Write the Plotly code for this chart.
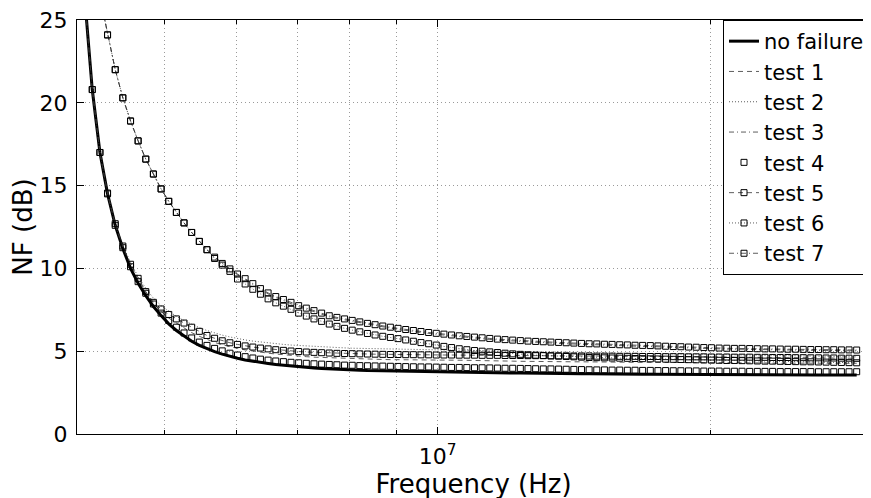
import plotly.graph_objects as go

# frequency grid of the measurement (MHz)
freq_mhz = [
    4.000, 4.078, 4.158, 4.240, 4.323, 4.408, 4.494, 4.583, 4.672, 4.764,
    4.857, 4.953, 5.050, 5.149, 5.250, 5.353, 5.458, 5.565, 5.674, 5.785,
    5.899, 6.014, 6.132, 6.253, 6.375, 6.500, 6.628, 6.758, 6.890, 7.025,
    7.163, 7.304, 7.447, 7.593, 7.742, 7.894, 8.049, 8.206, 8.367, 8.531,
    8.699, 8.869, 9.043, 9.221, 9.402, 9.586, 9.774, 9.966, 10.161, 10.360,
    10.564, 10.771, 10.982, 11.197, 11.417, 11.641, 11.869, 12.102, 12.339, 12.581,
    12.828, 13.080, 13.336, 13.598, 13.864, 14.136, 14.413, 14.696, 14.984, 15.278,
    15.578, 15.883, 16.195, 16.513, 16.836, 17.167, 17.503, 17.847, 18.197, 18.553,
    18.917, 19.288, 19.667, 20.052, 20.446, 20.847, 21.256, 21.672, 22.097, 22.531,
    22.973, 23.423, 23.883, 24.351, 24.829, 25.316, 25.812, 26.318, 26.834, 27.361,
    27.897, 28.444, 29.002,
]

nf_no_failure = [
    32.0, 26.2, 20.8, 17.0, 14.5, 12.6, 11.2, 10.0, 9.1, 8.35,
    7.7, 7.15, 6.65, 6.25, 5.9, 5.6, 5.35, 5.15, 4.97, 4.82,
    4.68, 4.57, 4.47, 4.39, 4.32, 4.26, 4.2, 4.15, 4.1, 4.06,
    4.02, 3.99, 3.96, 3.93, 3.91, 3.89, 3.87, 3.85, 3.83, 3.82,
    3.81, 3.80, 3.79, 3.78, 3.77, 3.76, 3.75, 3.74, 3.73, 3.72,
    3.72, 3.71, 3.71, 3.70, 3.70, 3.69, 3.69, 3.68, 3.68, 3.67,
    3.67, 3.66, 3.66, 3.65, 3.65, 3.65, 3.64, 3.64, 3.63, 3.63,
    3.63, 3.62, 3.62, 3.62, 3.61, 3.61, 3.61, 3.60, 3.60, 3.60,
    3.60, 3.59, 3.59, 3.59, 3.59, 3.59, 3.58, 3.58, 3.58, 3.58,
    3.58, 3.58, 3.57, 3.57, 3.57, 3.57, 3.57, 3.57, 3.56, 3.56,
    3.56, 3.56, 3.56,
]

nf_test1 = [
    32.0, 26.2, 20.8, 17.0, 14.5, 12.6, 11.3, 10.2, 9.3, 8.55,
    7.9, 7.4, 7.0, 6.7, 6.4, 6.12, 5.9, 5.7, 5.53, 5.39,
    5.27, 5.17, 5.08, 5.0, 4.94, 4.88, 4.83, 4.78, 4.74, 4.70,
    4.67, 4.64, 4.62, 4.60, 4.58, 4.56, 4.55, 4.53, 4.52, 4.51,
    4.50, 4.49, 4.49, 4.48, 4.48, 4.47, 4.47, 4.47, 4.46, 4.46,
    4.45, 4.45, 4.44, 4.44, 4.43, 4.42, 4.41, 4.40, 4.39, 4.38,
    4.38, 4.37, 4.37, 4.37, 4.36, 4.36, 4.36, 4.35, 4.35, 4.35,
    4.34, 4.34, 4.34, 4.33, 4.33, 4.33, 4.32, 4.32, 4.32, 4.31,
    4.31, 4.31, 4.30, 4.30, 4.30, 4.30, 4.30, 4.29, 4.29, 4.29,
    4.29, 4.28, 4.28, 4.28, 4.28, 4.28, 4.27, 4.27, 4.27, 4.27,
    4.27, 4.27, 4.27,
]

nf_test2 = [
    32.0, 26.2, 20.8, 17.0, 14.5, 12.6, 11.4, 10.35, 9.5, 8.8,
    8.2, 7.75, 7.4, 7.1, 6.85, 6.62, 6.42, 6.25, 6.1, 5.97,
    5.86, 5.76, 5.68, 5.61, 5.55, 5.5, 5.45, 5.41, 5.37, 5.34,
    5.31, 5.28, 5.26, 5.24, 5.22, 5.20, 5.18, 5.17, 5.15, 5.14,
    5.13, 5.12, 5.11, 5.10, 5.09, 5.08, 5.07, 5.07, 5.06, 5.06,
    5.05, 5.04, 5.03, 5.03, 5.02, 5.01, 5.00, 4.99, 4.98, 4.97,
    4.97, 4.96, 4.96, 4.95, 4.94, 4.94, 4.93, 4.92, 4.92, 4.91,
    4.90, 4.89, 4.89, 4.88, 4.87, 4.86, 4.86, 4.85, 4.84, 4.83,
    4.83, 4.82, 4.81, 4.80, 4.80, 4.79, 4.78, 4.78, 4.77, 4.76,
    4.76, 4.75, 4.74, 4.73, 4.73, 4.72, 4.71, 4.70, 4.70, 4.69,
    4.68, 4.67, 4.66,
]

nf_test3 = [
    35.5, 32.0, 29.0, 26.4, 24.1, 22.0, 20.3, 18.9, 17.7, 16.6,
    15.7, 14.8, 14.05, 13.38, 12.75, 12.17, 11.63, 11.13, 10.68, 10.3,
    9.95, 9.62, 9.32, 9.02, 8.72, 8.46, 8.24, 8.05, 7.88, 7.69,
    7.54, 7.39, 7.24, 7.08, 6.98, 6.89, 6.80, 6.71, 6.62, 6.54,
    6.46, 6.39, 6.32, 6.25, 6.19, 6.13, 6.07, 6.02, 5.97, 5.92,
    5.87, 5.83, 5.79, 5.75, 5.71, 5.67, 5.64, 5.61, 5.58, 5.55,
    5.53, 5.51, 5.49, 5.47, 5.45, 5.43, 5.41, 5.39, 5.38, 5.36,
    5.35, 5.33, 5.32, 5.30, 5.29, 5.28, 5.26, 5.25, 5.23, 5.22,
    5.20, 5.19, 5.17, 5.16, 5.14, 5.13, 5.12, 5.12, 5.11, 5.10,
    5.09, 5.09, 5.08, 5.07, 5.07, 5.06, 5.05, 5.05, 5.04, 5.04,
    5.03, 5.03, 5.02,
]

nf_test4 = [
    32.0, 26.2, 20.8, 17.0, 14.5, 12.6, 11.25, 10.1, 9.2, 8.5,
    7.85, 7.3, 6.85, 6.45, 6.1, 5.8, 5.55, 5.35, 5.17, 5.02,
    4.88, 4.77, 4.67, 4.59, 4.52, 4.46, 4.41, 4.37, 4.33, 4.30,
    4.27, 4.24, 4.22, 4.20, 4.18, 4.16, 4.15, 4.13, 4.12, 4.11,
    4.10, 4.09, 4.08, 4.07, 4.06, 4.05, 4.05, 4.04, 4.03, 4.02,
    4.02, 4.01, 4.00, 4.00, 3.99, 3.98, 3.97, 3.97, 3.96, 3.95,
    3.94, 3.93, 3.93, 3.92, 3.91, 3.90, 3.89, 3.88, 3.87, 3.87,
    3.86, 3.86, 3.85, 3.85, 3.84, 3.84, 3.83, 3.83, 3.82, 3.82,
    3.81, 3.81, 3.80, 3.80, 3.80, 3.79, 3.79, 3.79, 3.78, 3.78,
    3.78, 3.78, 3.77, 3.77, 3.77, 3.77, 3.77, 3.76, 3.76, 3.76,
    3.76, 3.76, 3.76,
]

nf_test5 = [
    32.0, 26.2, 20.8, 17.0, 14.55, 12.7, 11.35, 10.25, 9.4, 8.6,
    7.95, 7.55, 7.22, 6.95, 6.7, 6.45, 6.2, 5.95, 5.78, 5.63,
    5.51, 5.41, 5.32, 5.25, 5.19, 5.14, 5.09, 5.05, 5.01, 4.98,
    4.95, 4.93, 4.91, 4.89, 4.87, 4.86, 4.85, 4.84, 4.83, 4.82,
    4.81, 4.80, 4.80, 4.79, 4.79, 4.78, 4.78, 4.77, 4.77, 4.77,
    4.76, 4.76, 4.76, 4.75, 4.75, 4.75, 4.74, 4.74, 4.74, 4.73,
    4.73, 4.73, 4.72, 4.72, 4.72, 4.71, 4.71, 4.71, 4.70, 4.70,
    4.70, 4.69, 4.69, 4.69, 4.68, 4.68, 4.68, 4.67, 4.67, 4.67,
    4.66, 4.66, 4.66, 4.65, 4.65, 4.65, 4.64, 4.64, 4.64, 4.63,
    4.63, 4.62, 4.62, 4.62, 4.61, 4.61, 4.60, 4.60, 4.59, 4.59,
    4.58, 4.58, 4.57,
]

nf_test6 = [
    35.5, 32.0, 29.0, 26.4, 24.1, 22.0, 20.3, 18.9, 17.7, 16.6,
    15.7, 14.8, 14.05, 13.38, 12.75, 12.17, 11.63, 11.13, 10.6, 10.2,
    9.82, 9.36, 9.06, 8.74, 8.44, 8.16, 7.92, 7.72, 7.53, 7.3,
    7.12, 6.95, 6.8, 6.64, 6.5, 6.38, 6.27, 6.17, 6.07, 5.98,
    5.9, 5.83, 5.76, 5.68, 5.6, 5.52, 5.45, 5.37, 5.29, 5.22,
    5.15, 5.09, 5.04, 5.0, 4.96, 4.92, 4.88, 4.84, 4.81, 4.78,
    4.76, 4.74, 4.72, 4.70, 4.68, 4.66, 4.64, 4.62, 4.61, 4.60,
    4.59, 4.58, 4.57, 4.56, 4.55, 4.54, 4.53, 4.52, 4.51, 4.50,
    4.49, 4.48, 4.47, 4.46, 4.45, 4.44, 4.44, 4.43, 4.42, 4.41,
    4.40, 4.40, 4.39, 4.38, 4.37, 4.36, 4.36, 4.35, 4.34, 4.33,
    4.32, 4.31, 4.30,
]

nf_test7 = [
    35.5, 32.0, 29.0, 26.4, 24.1, 22.0, 20.3, 18.9, 17.7, 16.6,
    15.7, 14.8, 14.05, 13.38, 12.75, 12.17, 11.63, 11.13, 10.68, 10.3,
    9.97, 9.66, 9.38, 9.08, 8.78, 8.52, 8.3, 8.12, 7.95, 7.75,
    7.6, 7.45, 7.3, 7.14, 7.04, 6.95, 6.86, 6.77, 6.68, 6.6,
    6.52, 6.45, 6.38, 6.31, 6.25, 6.19, 6.13, 6.08, 6.03, 5.98,
    5.93, 5.89, 5.85, 5.81, 5.77, 5.73, 5.70, 5.67, 5.64, 5.61,
    5.59, 5.57, 5.55, 5.53, 5.51, 5.49, 5.47, 5.45, 5.44, 5.42,
    5.41, 5.39, 5.38, 5.36, 5.35, 5.34, 5.32, 5.30, 5.28, 5.27,
    5.25, 5.24, 5.22, 5.21, 5.19, 5.18, 5.17, 5.17, 5.16, 5.15,
    5.14, 5.14, 5.13, 5.12, 5.12, 5.11, 5.10, 5.10, 5.09, 5.09,
    5.08, 5.08, 5.07,
]

freq_hz = [f * 1e6 for f in freq_mhz]

# name, values, mode, dash
series = [
    ('test 1', nf_test1, 'lines', '5px,4px'),
    ('test 2', nf_test2, 'lines', '1px,2px'),
    ('test 3', nf_test3, 'lines', '5px,3px,1px,3px'),
    ('test 4', nf_test4, 'markers', 'solid'),
    ('test 5', nf_test5, 'lines+markers', '5px,4px'),
    ('test 6', nf_test6, 'lines+markers', '1px,2px'),
    ('test 7', nf_test7, 'lines+markers', '5px,3px,1px,3px'),
]

fig = go.Figure()

fig.add_trace(go.Scatter(
    x=freq_hz, y=nf_no_failure,
    name='no failure',
    mode='lines',
    line=dict(color='black', width=3),
    legendgroup='g0',
))

for i, (name, vals, mode, dash) in enumerate(series):
    fig.add_trace(go.Scatter(
        x=freq_hz, y=vals,
        name=name,
        mode=mode,
        line=dict(color='#333333', width=0.8, dash=dash),
        marker=dict(symbol='square-open', size=6, color='black',
                    line=dict(width=1)),
        legendgroup='g%d' % (i + 1),
    ))

grid_ticks = [5e6, 6e6, 7e6, 8e6, 9e6, 2e7]
grid_style = dict(showgrid=True, gridcolor='#9a9a9a', griddash='1px,3px', gridwidth=1)

fig.update_xaxes(
    type='log',
    range=[6.60206, 7.4771213],
    tickmode='array',
    tickvals=[1e7],
    ticktext=['10<sup>7</sup>'],
    ticks='inside', ticklen=7, tickcolor='black',
    showline=True, linecolor='black', linewidth=1, mirror='ticks',
    minor=dict(tickmode='array', tickvals=grid_ticks, ticks='inside',
               ticklen=4, tickcolor='black', **grid_style),
    zeroline=False,
    automargin=False,
    ticklabeloverflow='allow',
    ticklabelstandoff=3,
    title=dict(text='Frequency (Hz)', standoff=0),
    **grid_style,
)

fig.update_yaxes(
    range=[0, 25],
    tickmode='array',
    tickvals=[0, 5, 10, 15, 20, 25],
    ticks='inside', ticklen=7, tickcolor='black',
    showline=True, linecolor='black', linewidth=1, mirror='ticks',
    zeroline=False,
    automargin=False,
    ticklabeloverflow='allow',
    ticklabelstandoff=4,
    title=dict(text='NF (dB)', standoff=8),
    **grid_style,
)

# the page body adds an 8px offset, margins are set to compensate
fig.update_layout(
    width=871, height=498,
    margin=dict(l=69, r=9, t=12, b=72),
    paper_bgcolor='white', plot_bgcolor='white',
    font=dict(family='DejaVu Sans, Arial, sans-serif', size=22, color='black'),
    legend=dict(
        x=1, y=1, xanchor='right', yanchor='top',
        bgcolor='white', bordercolor='black', borderwidth=1,
        traceorder='grouped', tracegroupgap=0,
        font=dict(size=21),
    ),
)

fig.write_html("out.html")
